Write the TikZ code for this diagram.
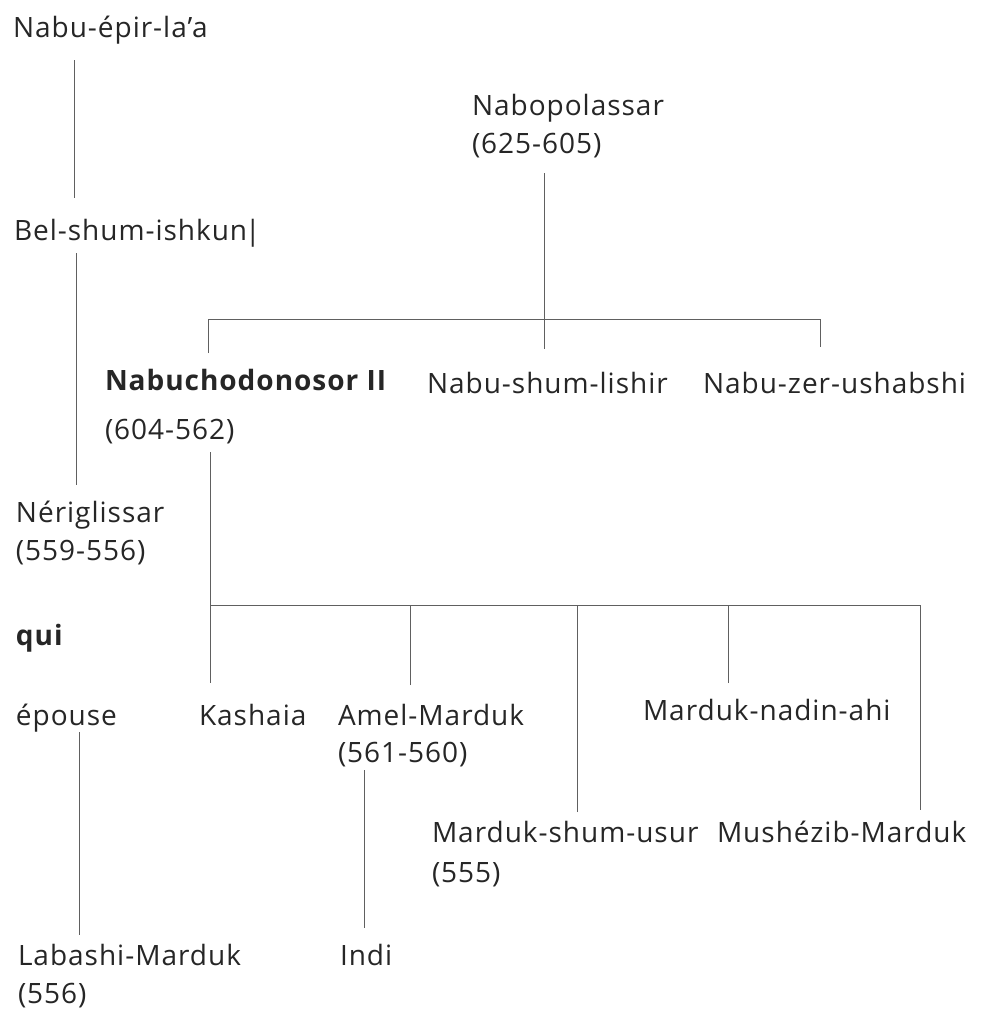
\documentclass[tikz,border=0pt]{standalone}
\usepackage{fontspec}
\setmainfont{Open Sans}[LetterSpace=3.5]
\usetikzlibrary{calc}
\definecolor{ink}{HTML}{262626}
\definecolor{rule}{HTML}{606060}
\newcommand\twolines[3]{\vtop{\baselineskip=#1\lineskiplimit=-100pt\lineskip=0pt\hbox{#2}\hbox{#3}}}
\begin{document}
\begin{tikzpicture}[x=1pt,y=-1pt,
  person/.style={anchor=base west,inner sep=0pt,outer sep=0pt,text=ink,font=\fontsize{28}{34}\selectfont},
  link/.style={draw=rule,line width=0.9pt}]
\useasboundingbox (0,0) rectangle (980,1017);
\fill[white] (0,0) rectangle (980,1017);
% people
\node[person] (n1)  at (13,37)  {Nabu-épir-la’a};
\node[person] (n2)  at (14,240) {Bel-shum-ishkun\kern-2pt|};
\node[person] (n3)  at (472,115) {\twolines{38pt}{Nabopolassar}{(625-605)}};
\node[person] (n4)  at (105,390) {\twolines{49pt}{\bfseries Nabuchodonosor II}{(604-562)}};
\node[person] (n5)  at (427,393) {Nabu-shum-lishir};
\node[person] (n6)  at (703,393) {Nabu-zer-ushabshi};
\node[person] (n7)  at (16,522) {\twolines{38pt}{Nériglissar}{(559-556)}};
\node[person] (n8)  at (16,645) {\bfseries qui};
\node[person] (n9)  at (16,725) {épouse};
\node[person] (n10) at (199,725) {Kashaia};
\node[person] (n11) at (338,725) {\twolines{37pt}{Amel-Marduk}{(561-560)}};
\node[person] (n12) at (643,720) {Marduk-nadin-ahi};
\node[person] (n13) at (432,842) {\twolines{40pt}{Marduk-shum-usur}{(555)}};
\node[person] (n14) at (717,842) {Mushézib-Marduk};
\node[person] (n15) at (18,965) {\twolines{38pt}{Labashi-Marduk}{(556)}};
\node[person] (n16) at (340,965) {Indi};
% junction bars
\coordinate (bar1L) at (208,319);
\coordinate (bar1R) at (820,319);
\coordinate (bar2L) at (210,605);
\coordinate (bar2R) at (920,605);
% connectors
\draw[link] ($(n1.base west)+(61,23)$) -- ($(n2.base west)+(60,-42)$);
\draw[link] ($(n2.base west)+(62,13)$) -- ($(n7.base west)+(60,-37)$);
\draw[link] ($(n3.base west)+(72,58)$) -- ($(n5.base west)+(117,-44)$);
\draw[link] ($(n4.base west)+(103,-37)$) -- (bar1L) -- (bar1R) -- ($(n6.base west)+(117,-46)$);
\draw[link] ($(n4.base west)+(105,62)$) -- ($(n10.base west)+(11,-42)$);
\draw[link] (bar2L) -- (bar2R) -- ($(n14.base west)+(203,-32)$);
\draw[link] ($(n11.base west)+(72,-40)$) coordinate (a11) -- (a11 |- bar2L);
\draw[link] ($(n13.base west)+(145,-30)$) coordinate (a13) -- (a13 |- bar2L);
\draw[link] ($(n12.base west)+(85,-37)$) coordinate (a12) -- (a12 |- bar2L);
\draw[link] ($(n9.base west)+(63,7)$) -- ($(n15.base west)+(61,-30)$);
\draw[link] ($(n11.base west)+(26,45)$) -- ($(n16.base west)+(24,-37)$);
\end{tikzpicture}
\end{document}
